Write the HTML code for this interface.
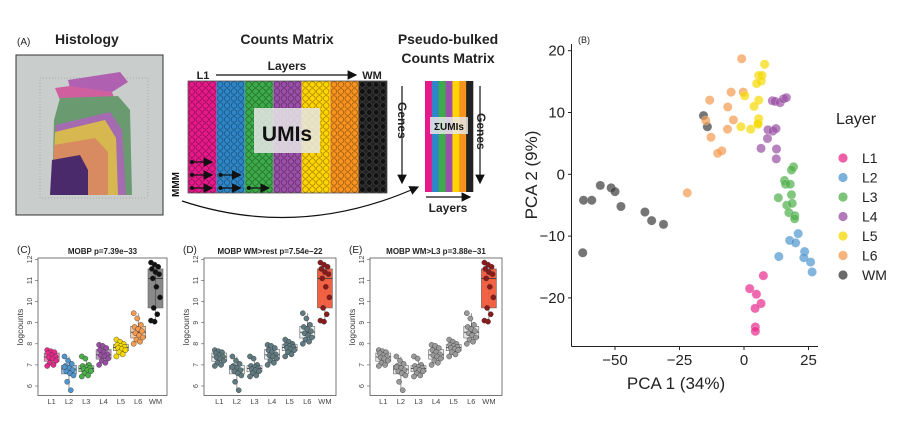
<!DOCTYPE html>
<html><head><meta charset="utf-8">
<style>
html,body{margin:0;padding:0;background:#fff;}
svg{display:block;font-family:"Liberation Sans",Arial,sans-serif;}
</style></head>
<body>
<svg id="fig" width="922" height="424" viewBox="0 0 922 424" xmlns="http://www.w3.org/2000/svg">
<defs>
<marker id="ah" markerWidth="8" markerHeight="8" refX="7" refY="4" orient="auto"><path d="M0,0 L8,4 L0,8 z" fill="#111"/></marker>
</defs>
<!-- Panel A -->
<g>
<text x="17" y="45" font-size="10" fill="#222">(A)</text>
<text x="55" y="44" font-size="14" font-weight="bold" fill="#222">Histology</text>
<g>
<rect x="16" y="55" width="147" height="160" fill="#c9cdcc" stroke="#333" stroke-width="1"/>
<rect x="40" y="78" width="108" height="120" fill="none" stroke="#aaa" stroke-dasharray="1,2"/>
<path d="M68,80 L120,72 L128,82 L112,92 L70,88 Z" fill="#b060b0"/>
<path d="M55,88 L70,86 L112,92 L115,100 L60,100 Z" fill="#d05fa0"/>
<path d="M60,98 L118,96 L130,110 L132,195 L52,195 L54,120 Z" fill="#6a9a70"/>
<path d="M56,125 L110,112 L122,130 L126,195 L52,195 Z" fill="#a56bb0"/>
<path d="M55,132 L105,120 L116,138 L118,195 L52,195 Z" fill="#d7b850"/>
<path d="M54,145 L95,138 L108,152 L108,195 L52,195 Z" fill="#d88a60"/>
<path d="M52,160 L80,155 L88,170 L88,195 L50,195 Z" fill="#4a2a6a"/>
</g>
<text x="287" y="44" text-anchor="middle" font-size="14" font-weight="bold" fill="#222">Counts Matrix</text>
<text x="287" y="70" text-anchor="middle" font-size="12" font-weight="bold" fill="#222">Layers</text>
<text x="203" y="79" text-anchor="middle" font-size="11" font-weight="bold" fill="#222">L1</text>
<text x="372" y="79" text-anchor="middle" font-size="11" font-weight="bold" fill="#222">WM</text>
<line x1="216" y1="75" x2="356" y2="75" stroke="#111" stroke-width="1.2" marker-end="url(#ah)"/>
<g id="matrix"></g>
<rect x="254" y="108" width="66" height="45" fill="#e8e8e8" opacity="0.85"/>
<text x="287" y="141" text-anchor="middle" font-size="21" font-weight="bold" fill="#111">UMIs</text>
<line x1="402" y1="86" x2="402" y2="183" stroke="#111" stroke-width="1.2" marker-end="url(#ah)"/>
<text x="0" y="0" transform="translate(398,102) rotate(90)" font-size="12" font-weight="bold" fill="#222">Genes</text>
<text x="0" y="0" transform="translate(179,197) rotate(-90)" font-size="10" font-weight="bold" fill="#111">MMM</text>
<path d="M182,201 Q300,240 418,187" fill="none" stroke="#111" stroke-width="1.2" marker-end="url(#ah)"/>
<text x="448" y="44" text-anchor="middle" font-size="14" font-weight="bold" fill="#222">Pseudo-bulked</text>
<text x="448" y="63" text-anchor="middle" font-size="14" font-weight="bold" fill="#222">Counts Matrix</text>
<g id="pb"></g>
<rect x="430" y="117" width="38" height="17" fill="#e8e8e8" opacity="0.85"/>
<text x="449" y="130" text-anchor="middle" font-size="10" font-weight="bold" fill="#111">ΣUMIs</text>
<line x1="480" y1="86" x2="480" y2="183" stroke="#111" stroke-width="1.2" marker-end="url(#ah)"/>
<text x="0" y="0" transform="translate(477,113) rotate(90)" font-size="12" font-weight="bold" fill="#222">Genes</text>
<line x1="426" y1="197" x2="470" y2="197" stroke="#111" stroke-width="1.2" marker-end="url(#ah)"/>
<text x="448" y="212" text-anchor="middle" font-size="12" font-weight="bold" fill="#222">Layers</text>
</g>
<!-- Panel B -->
<g id="pca">
<text x="578" y="43" font-size="9" fill="#222">(B)</text>
</g>
<g id="boxes"></g>
<script>
// PCA data
const pcaX = [-62.2,-59,-55.7,-51.5,-50,-47.7,-38.4,-35.8,-31.2,-62.5,-15.7,-14.2,
 -0.9,-13.3,-5,-0.3,-6.3,-14.8,-4.1,-6.4,-12.8,-8.6,-10.2,-22,
 8,5.7,7,6.7,4.9,0.3,5.7,3.9,5.7,5.5,-1.2,2.6,5.4,
 11,12.1,14,15.3,16.4,9.3,11.2,12.4,9.1,6.6,12.6,12.5,
 19.2,18.4,15.7,16.1,17.9,18.4,13.3,16.6,18.7,17.4,19.7,19.6,
 21,17.7,20,13.5,23.5,23.2,25.8,26.4,
 7.5,2.2,4.8,6.6,4.3,4.4,4.4];
const pcaY = [-4.2,-4.2,-1.8,-2.2,-2.8,-5.2,-6.1,-7.5,-8.1,-12.7,9.5,7.7,
 18.7,12,13.3,13.3,10.9,8.7,8.8,7.3,6,3.8,3.4,-3,
 17.8,16,16,15.1,14.7,12.7,12,11,9,8.3,7.7,7.3,8.1,
 11.9,11.8,11.6,12.2,12.4,7.2,7,7.4,5.8,4.2,4.1,2.5,
 1.2,0.7,-1,-1.6,-1.6,-3.3,-3.8,-5,-4.7,-6.2,-6.7,-7.2,
 -9.6,-10.7,-11.1,-13.3,-12.5,-13.5,-14.2,-15.8,
 -16.4,-18.5,-19.4,-20.9,-21.7,-24.7,-25.4];
const pcaLayer = ["WM","WM","WM","WM","WM","WM","WM","WM","WM","WM","WM","WM",
 "L6","L6","L6","L6","L6","L6","L6","L6","L6","L6","L6","L6",
 "L5","L5","L5","L5","L5","L5","L5","L5","L5","L5","L5","L5","L5",
 "L4","L4","L4","L4","L4","L4","L4","L4","L4","L4","L4","L4",
 "L3","L3","L3","L3","L3","L3","L3","L3","L3","L3","L3","L3",
 "L2","L2","L2","L2","L2","L2","L2","L2",
 "L1","L1","L1","L1","L1","L1","L1"];
const layers = ["L1","L2","L3","L4","L5","L6","WM"];
const xTicks = [-50,-25,0,25];
const yTicks = [-20,-10,0,10,20];
// Boxplot data
const boxVals = [
 [7.7,7.65,7.6,7.55,7.45,7.4,7.35,7.3,7.2,7.1,7.0,6.95],
 [7.4,7.2,7.05,6.95,6.85,6.75,6.7,6.6,6.5,6.2,5.8,6.9],
 [7.4,7.3,7.0,6.95,6.9,6.85,6.8,6.75,6.7,6.6,6.5,6.45],
 [7.95,7.9,7.8,7.7,7.6,7.5,7.45,7.4,7.3,7.2,7.1,7.0],
 [8.2,8.1,8.0,7.95,7.9,7.85,7.8,7.75,7.7,7.6,7.5,7.4],
 [9.45,9.2,8.9,8.8,8.7,8.6,8.5,8.4,8.3,8.2,8.1,8.0],
 [11.85,11.75,11.65,11.55,11.4,11.3,11.1,10.7,10.2,9.7,9.4,9.1,9.05]];
const boxYTicks = [6,7,8,9,10,11,12];
const panelTitles = ["MOBP p=7.39e\u221233","MOBP WM>rest p=7.54e\u221222","MOBP WM>L3 p=3.88e\u221231"];
const panelLabels = ["(C)","(D)","(E)"];

const NS="http://www.w3.org/2000/svg";
function mk(parent,tag,attrs){const e=document.createElementNS(NS,tag);for(const k in attrs)e.setAttribute(k,attrs[k]);parent.appendChild(e);return e;}
const colors={L1:"#e7298a",L2:"#4f95cf",L3:"#4daf4a",L4:"#984ea3",L5:"#f5d800",L6:"#f39a4f",WM:"#3a3a3a"};
const matCols=["#e7198a","#2e86c8","#3cab4a","#9b4fa8","#ffd400","#f7931e","#222222"];

// counts matrix
const mat=document.getElementById('matrix');
const cw=(387-188)/7;
for(let c=0;c<7;c++){
 const r=mk(mat,'rect',{x:188+c*cw,y:81,width:cw,height:112,fill:matCols[c]});
 
 
 for(let i=0;i<4;i++)for(let j=0;j<16;j++){
  mk(mat,'circle',{cx:188+c*cw+3.8+i*6.9,cy:84.5+j*7,r:2.8,fill:c==6?'#111':'none',stroke:c==6?'#444':'rgba(0,0,0,0.45)','stroke-width':0.6});
 }
}
mk(mat,'rect',{x:188,y:81,width:199,height:112,fill:'none',stroke:'#555','stroke-width':0.8});
[[0,1],[0,2],[1,2],[0,3],[1,3],[2,3]].forEach(([c,row])=>{
 const y=[0,162,175,188][row];const x=188+c*cw+4;
 mk(mat,'circle',{cx:x,cy:y,r:2,fill:'#111'});
 mk(mat,'line',{x1:x,y1:y,x2:x+20,y2:y,stroke:'#111','stroke-width':1.2,'marker-end':'url(#ah)'});
});
const pb=document.getElementById('pb');
for(let c=0;c<7;c++){mk(pb,'rect',{x:425+c*48/7,y:81,width:48/7+0.3,height:111,fill:matCols[c]});}

// PCA
const pca=document.getElementById('pca');
const sx=v=>744+v*2.58, sy=v=>174.3-v*6.18;
mk(pca,'line',{x1:571.5,y1:44,x2:571.5,y2:346.5,stroke:'#222','stroke-width':1});
mk(pca,'line',{x1:571.5,y1:346.5,x2:818,y2:346.5,stroke:'#222','stroke-width':1});
xTicks.forEach(t=>{mk(pca,'line',{x1:sx(t),y1:346.5,x2:sx(t),y2:350,stroke:'#222'});
 const tx=mk(pca,'text',{x:sx(t),y:365,'text-anchor':'middle','font-size':15,fill:'#222'});tx.textContent=t<0?'\u2212'+(-t):t;});
yTicks.forEach(t=>{mk(pca,'line',{x1:568,y1:sy(t),x2:571.5,y2:sy(t),stroke:'#222'});
 const tx=mk(pca,'text',{x:565,y:sy(t)+5,'text-anchor':'end','font-size':15,fill:'#222'});tx.textContent=t<0?'\u2212'+(-t):t;});
const xl=mk(pca,'text',{x:676,y:389,'text-anchor':'middle','font-size':17,fill:'#222'});xl.textContent='PCA 1 (34%)';


const yl=mk(pca,'text',{x:0,y:0,transform:'translate(537,175) rotate(-90)','text-anchor':'middle','font-size':17,fill:'#222'});yl.textContent='PCA 2 (9%)';


pcaX.forEach((x,i)=>{const c=mk(pca,'circle',{cx:sx(x),cy:sy(pcaY[i]),r:4.6,fill:colors[pcaLayer[i]],'fill-opacity':0.7,stroke:'#fff','stroke-opacity':0.4,'stroke-width':0.5});
 
 });
const lt=mk(pca,'text',{x:836,y:124,'font-size':16,fill:'#222'});lt.textContent='Layer';


layers.forEach((l,i)=>{const g=mk(pca,'g',{});
 
 
 const y=158+i*19.5;
 mk(g,'circle',{cx:843,cy:y,r:4.6,fill:colors[l],'fill-opacity':0.75});
 const t=mk(g,'text',{x:862,y:y+5,'font-size':14,fill:'#222'});t.textContent=l;});

// Boxplots
const boxes=document.getElementById('boxes');
const frames=[[38,167,51.7,17.3],[204,336,219.3,17.6],[370,502,383.3,17.6]];
const by=v=>386-(v-6)*21.1;
function q(a,p){const s=[...a].sort((x,y)=>x-y);const i=(s.length-1)*p;const lo=Math.floor(i);return s[lo]+(s[Math.min(lo+1,s.length-1)]-s[lo])*(i-lo);}
frames.forEach((f,pi)=>{
 const g=mk(boxes,'g',{});
 
 
 const [x0,x1,cx0,step]=f;
 mk(g,'rect',{x:x0,y:258,width:x1-x0,height:137.5,fill:'none',stroke:'#555','stroke-width':0.8});
 const pl=mk(g,'text',{x:x0-21,y:253,'font-size':10,fill:'#222'});pl.textContent=panelLabels[pi];
 const tt=mk(g,'text',{x:(x0+x1)/2,y:254,'text-anchor':'middle','font-size':8,'font-weight':'bold',fill:'#222'});tt.textContent=panelTitles[pi];
 boxYTicks.forEach(t=>{mk(g,'line',{x1:x0-3,y1:by(t),x2:x0,y2:by(t),stroke:'#555','stroke-width':0.6});
  const tx=mk(g,'text',{x:0,y:0,transform:`translate(${x0-6},${by(t)}) rotate(-90)`,'text-anchor':'middle','font-size':7,fill:'#444'});tx.textContent=t;});
 const yt=mk(g,'text',{x:0,y:0,transform:`translate(${x0-15},327) rotate(-90)`,'text-anchor':'middle','font-size':8.5,fill:'#333'});yt.textContent='logcounts';
 boxVals.forEach((vals,li)=>{
  const cx=cx0+li*step;
  const q1=q(vals,0.25),md=q(vals,0.5),q3=q(vals,0.75),mn=Math.min(...vals),mx=Math.max(...vals);
  let bf,pf,ps;
  if(pi==0){bf=colors[layers[li]];pf=layers[li]=='WM'?'#111':colors[layers[li]];ps='#333';}
  else if(li==6){bf='#f0583a';pf='#8b1a1a';ps='#333';}
  else {bf=pi==1?'#e8f0f2':'#e6e6e6';pf=pi==1?'#5f7a80':'#9a9a9a';ps='#333';}
  mk(g,'line',{x1:cx,y1:by(mn),x2:cx,y2:by(mx),stroke:'#555','stroke-width':0.6});
  const b=mk(g,'rect',{x:cx-7.5,y:by(q3),width:15,height:by(q1)-by(q3),fill:bf,'fill-opacity':pi==0?(li==6?0.6:0.55):0.95,stroke:'#666','stroke-width':0.6});
  
  
  mk(g,'line',{x1:cx-7.5,y1:by(md),x2:cx+7.5,y2:by(md),stroke:'#333','stroke-width':0.8});
  vals.forEach((v,k)=>{const jx=((k*37)%11-5)*0.9;
   const p=mk(g,'circle',{cx:cx+jx,cy:by(v),r:2.6,fill:pf,stroke:ps,'stroke-width':0.4});
   
   });
  const lt=mk(g,'text',{x:cx,y:404,'text-anchor':'middle','font-size':7.5,fill:'#444'});lt.textContent=layers[li];
 });
});
</script>
</svg>
</body></html>
